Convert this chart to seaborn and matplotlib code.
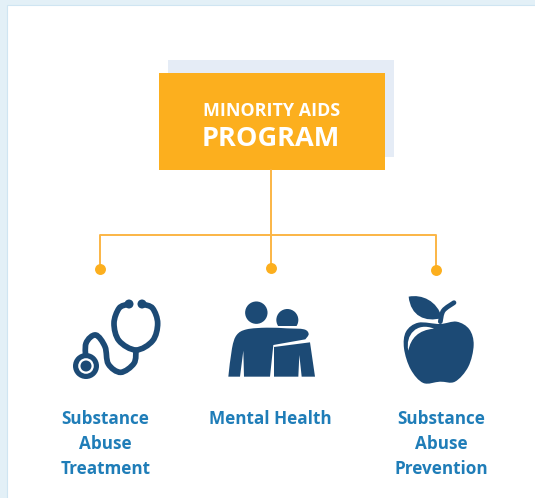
import numpy as np
import pandas as pd
import matplotlib
matplotlib.use("Agg")
import matplotlib.pyplot as plt
from matplotlib.patches import Rectangle, Circle, PathPatch
from matplotlib.path import Path
import seaborn as sns

title_lines = ["MINORITY AIDS", "PROGRAM"]
branch_labels = ["Substance\nAbuse\nTreatment", "Mental Health", "Substance\nAbuse\nPrevention"]
branch_x = [99.5, 270.5, 435.5]
dot_y = [269, 268, 270]
label_x = [105.5, 270.5, 441.5]

ORANGE = "#FCAF1E"
LINE = "#FBB545"
NAVY = "#1C4A75"
BLUE = "#1F7DB8"
SHADOW = "#E5ECF6"
BG = "#E3F0F7"

sns.set_theme(style="white")
plt.rcParams["font.family"] = ["Open Sans", "DejaVu Sans"]

fig = plt.figure(figsize=(5.35, 4.98), dpi=100, facecolor=BG)
ax = fig.add_axes([0, 0, 1, 1])

ax.add_patch(Rectangle((7, 5), 540, 500, fc="white", ec="#CFE5F2", lw=0.8, zorder=0))
ax.add_patch(Rectangle((168, 60), 226, 97, fc=SHADOW, ec="none", zorder=1))
ax.add_patch(Rectangle((159, 73), 225.5, 97, fc=ORANGE, ec="none", zorder=2))


def smooth(points, closed=True):
    p = np.asarray(points, float)
    n = len(p)
    verts = [p[0]]
    codes = [Path.MOVETO]
    rng = n if closed else n - 1
    for i in range(rng):
        p0 = p[(i - 1) % n] if (closed or i > 0) else p[i]
        p1 = p[i]
        p2 = p[(i + 1) % n]
        p3 = p[(i + 2) % n] if (closed or i + 2 < n) else p2
        verts += [p1 + (p2 - p0) / 6, p2 - (p3 - p1) / 6, p2]
        codes += [Path.CURVE4] * 3
    return Path(verts, codes)


def mixed(curve, corners):
    """Closed outline: a smooth run followed by straight corners."""
    sub = smooth(curve, closed=False)
    verts = list(sub.vertices) + list(corners) + [curve[0]]
    codes = list(sub.codes) + [Path.LINETO] * len(corners) + [Path.CLOSEPOLY]
    return Path(verts, codes)


# connectors
for xs, ys in [([271, 271], [170, 235]),
               ([branch_x[0], branch_x[0], branch_x[2], branch_x[2]], [dot_y[0], 235, 235, dot_y[2]]),
               ([271, 271], [235, dot_y[1]])]:
    sns.lineplot(data=pd.DataFrame({"x": xs, "y": ys}), x="x", y="y", ax=ax, color=LINE, lw=1.4,
                 estimator=None, sort=False, zorder=3)
dots = pd.DataFrame({"x": branch_x, "y": dot_y})
sns.scatterplot(data=dots, x="x", y="y", ax=ax, color=ORANGE, s=62, linewidth=0, zorder=4, legend=False)
ax.set_xlim(0, 535)
ax.set_ylim(498, 0)
ax.axis("off")

# box text
ax.text(271.5, 110.5, title_lines[0], color="white", fontsize=12.9, fontweight="bold",
        ha="center", va="center", zorder=5)
ax.text(271, 139, title_lines[1], color="white", fontsize=19.5, fontweight="bold",
        ha="center", va="center", zorder=5)

# labels
for x, lab in zip(label_x, branch_labels):
    ax.text(x, 409.5, lab, color=BLUE, fontsize=12.3, fontweight="bold", ha="center", va="top",
            linespacing=1.5, zorder=5)


# stethoscope icon
def z2(x, y):
    return (50 + x / 3, 280 + y / 3)


tube_pts = [z2(*q) for q in [(232, 73), (207, 85), (192, 130), (207, 182), (258, 210), (308, 182),
                             (323, 130), (308, 85), (280, 73)]]
ax.add_patch(PathPatch(smooth(tube_pts, closed=False), fc="none", ec=NAVY, lw=4.1, capstyle="round", zorder=5))
hose_pts = [z2(*q) for q in [(258, 210), (252, 250), (212, 277), (175, 252), (165, 200), (137, 165),
                             (108, 190), (108, 245)]]
ax.add_patch(PathPatch(smooth(hose_pts, closed=False), fc="none", ec=NAVY, lw=4.1, zorder=5))
for q in [(237, 72), (276, 72)]:
    ax.add_patch(Circle(z2(*q), 4.5, fc=NAVY, ec="none", zorder=6))
cx, cy = z2(108, 258)
ax.add_patch(Circle((cx, cy), 13, fc=NAVY, ec="none", zorder=5))
ax.add_patch(Circle((cx, cy), 7.8, fc="white", ec="none", zorder=6))
ax.add_patch(Circle((cx, cy), 5.5, fc=NAVY, ec="none", zorder=7))

# people icon
ax.add_patch(Circle(z2(619, 98), 11.2, fc=NAVY, ec="none", zorder=5))
small_head = Circle(z2(712, 120), 11, fc=NAVY, ec="none", zorder=5)
ax.add_patch(small_head)
small_head.set_clip_path(Rectangle((270, 300), 40, 26.3, transform=ax.transData))
big_curve = [z2(535, 290), z2(546, 205), z2(560, 165), z2(590, 148), z2(650, 143), z2(710, 145),
             z2(762, 148), z2(776, 162), z2(766, 178)]
big_corners = [z2(670, 195), z2(660, 290), z2(582, 290), z2(580, 212), z2(570, 290)]
ax.add_patch(PathPatch(mixed(big_curve, big_corners), fc=NAVY, ec="none", zorder=5))
small_corners = [z2(672, 201), z2(780, 187), z2(795, 290), z2(755, 290), z2(748, 225), z2(745, 290), z2(672, 290)]
ax.add_patch(PathPatch(Path(small_corners + [small_corners[0]],
                            [Path.MOVETO] + [Path.LINETO] * 6 + [Path.CLOSEPOLY]),
                       fc=NAVY, ec="none", zorder=5))


# apple icon
def z3(x, y):
    return (380 + x / 3, 280 + y / 3)


body = [(180, 132), (230, 125), (268, 148), (281, 195), (265, 260), (225, 305), (180, 305), (130, 309),
        (92, 268), (72, 205), (78, 155), (115, 128)]
ax.add_patch(PathPatch(smooth([z3(*q) for q in body]), fc=NAVY, ec="none", zorder=5))
shine = Path([z3(162, 146), z3(110, 125), z3(75, 165), z3(85, 212), z3(92, 175), z3(115, 150), z3(162, 146)],
             [Path.MOVETO] + [Path.CURVE4] * 6)
ax.add_patch(PathPatch(shine, fc="white", ec="none", zorder=6))
leaf = Path([z3(86, 50), z3(125, 42), z3(172, 62), z3(186, 114), z3(135, 128), z3(92, 108), z3(86, 50)],
            [Path.MOVETO] + [Path.CURVE4] * 6)
ax.add_patch(PathPatch(leaf, fc=NAVY, ec="none", zorder=5))
stalk = smooth([z3(*q) for q in [(181, 125), (190, 92), (222, 68)]], closed=False)
ax.add_patch(PathPatch(stalk, fc="none", ec=NAVY, lw=3.4, capstyle="round", zorder=5))

fig.savefig("out.png", dpi=100, facecolor=BG)
